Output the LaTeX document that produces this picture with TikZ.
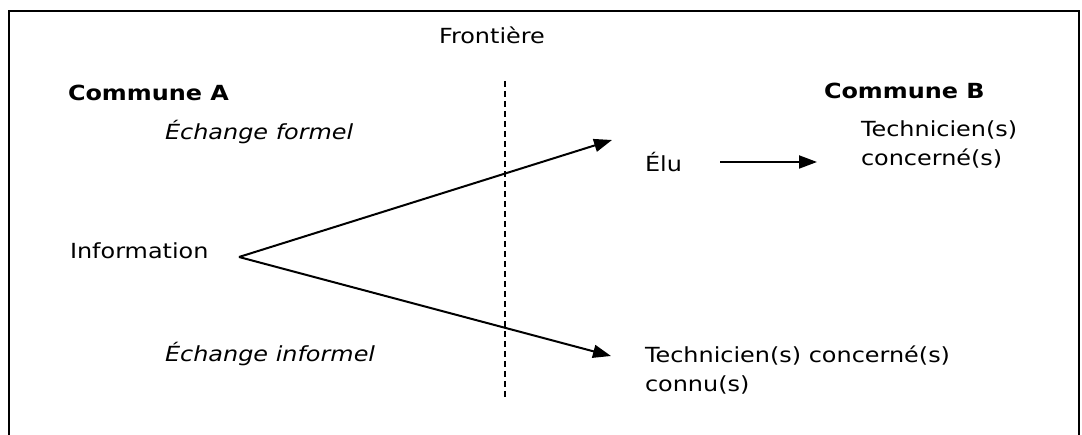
\documentclass[tikz,border=0pt]{standalone}
\usepackage{fontspec}
\setmainfont{DejaVu Sans}[FakeStretch=1.15]
\usetikzlibrary{arrows.meta}
\begin{document}
\begin{tikzpicture}[x=1pt,y=-1pt,
  every node/.style={inner sep=0pt,outer sep=0pt,anchor=base west,
    font=\fontsize{20.8}{29}\selectfont},
  title/.style={font=\fontsize{20.8}{29}\selectfont\bfseries},
  label/.style={font=\fontsize{20.8}{29}\selectfont\itshape},
  multi/.style={align=left},
  link/.style={line width=2pt,-{Triangle[length=18pt,width=13pt]}}]
\useasboundingbox (0,0) rectangle (1082,435);
% frame (open at the bottom)
\draw[line width=2pt] (9,440) -- (9,11) -- (1079,11) -- (1079,440);

% border line
\node (frontiere) at (439,44) {Frontière};
\draw[line width=1.3pt,dash pattern=on 6pt off 4pt] (505,81) -- (505,400);

% headings
\node[title] (communeA) at (68,101) {Commune A};
\node[title] (communeB) at (824,99) {Commune B};

% labels
\node[label] (formel) at (165,140) {Échange formel};
\node[label] (informel) at (165,362) {Échange informel};

% nodes (multi-line nodes sit on the baseline of their last line)
\node (info) at (70,259) {Information};
\node (elu) at (645,172) {Élu};
\node[multi] (techB) at (861,166) {Technicien(s)\\concerné(s)};
\node[multi] (techC) at (645,392) {Technicien(s) concerné(s)\\connu(s)};

% connectors
\coordinate (apex) at (239,257);
\coordinate (formelTip) at (612,140);
\coordinate (informelTip) at (611,356);
\coordinate (eluOut) at (720,162);
\coordinate (techIn) at (817,162);
\draw[link] (apex) -- (formelTip);
\draw[link] (apex) -- (informelTip);
\draw[link] (eluOut) -- (techIn);
\end{tikzpicture}
\end{document}
